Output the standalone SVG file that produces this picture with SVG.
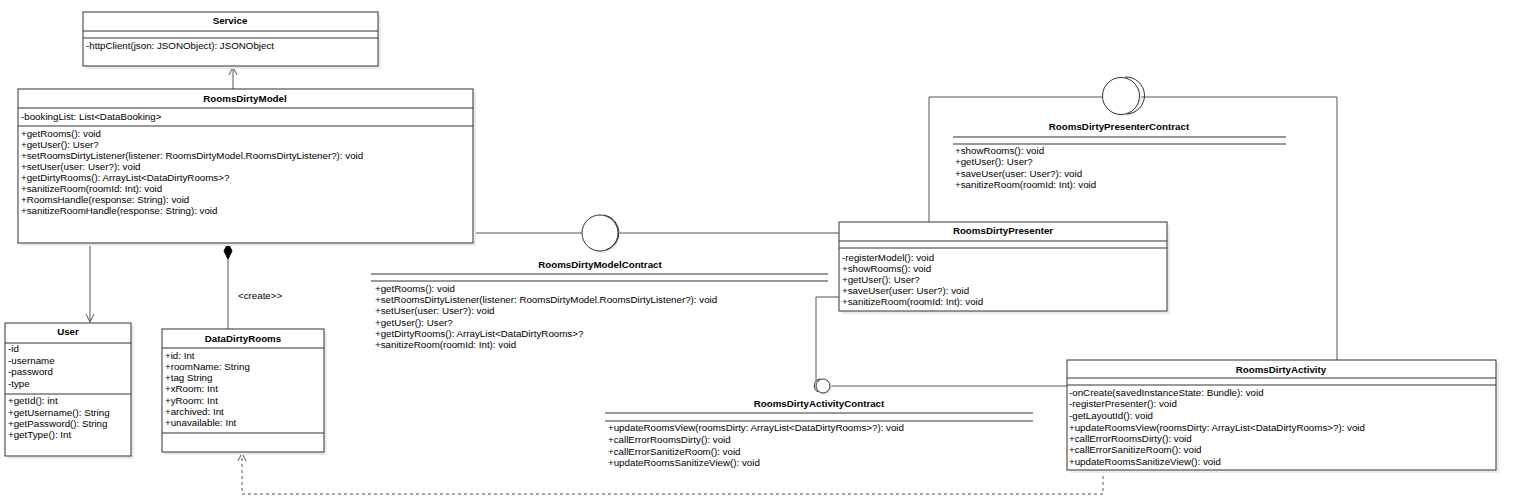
<svg xmlns="http://www.w3.org/2000/svg" width="1517" height="504" viewBox="0 0 1517 504">
<defs>
<style>
text{font-family:"Liberation Sans",Arial,sans-serif;font-size:9.75px;fill:#000}
.t{font-weight:bold;text-anchor:middle}
.box{fill:#fff;stroke:#333;stroke-width:1}
.sh{fill:#ebebeb;stroke:none}
.sep{stroke:#333;stroke-width:1;fill:none}
.c{stroke:#555;stroke-width:1;fill:none}
.d{stroke:#555;stroke-width:1;fill:none;stroke-dasharray:3,3}
.ic{fill:#fff;stroke:#333;stroke-width:1}
</style>
<marker id="open" viewBox="0 0 10 10" refX="9" refY="5" markerWidth="10" markerHeight="10" markerUnits="userSpaceOnUse" orient="auto">
<path d="M1,1 L9,5 L1,9" fill="none" stroke="#555" stroke-width="1"/>
</marker>
</defs>
<rect width="1517" height="504" fill="#fff"/>

<g id="connectors">
<line class="c" x1="233" y1="89" x2="233" y2="67" marker-end="url(#open)"/>
<line class="c" x1="90" y1="243" x2="90" y2="322" marker-end="url(#open)"/>
<line class="c" x1="228" y1="259" x2="228" y2="329"/>
<path d="M228,243 L232,251 L228,259 L224,251 Z" fill="#000" stroke="#000" stroke-width="1"/>
<text x="238" y="299">&lt;create&gt;&gt;</text>
<polyline class="d" points="1103,470 1103,494 242,494 242,453" marker-end="url(#open)"/>
<line class="c" x1="473" y1="233" x2="582" y2="233"/>
<line class="c" x1="618" y1="233" x2="839" y2="233"/>
<polyline class="c" points="929,222 929,97 1102,97"/>
<polyline class="c" points="1140,97 1337,97 1337,360"/>
<polyline class="c" points="839,297 816,297 816,381"/>
<line class="c" x1="830" y1="386" x2="1067" y2="386"/>
</g>

<g id="Service">
<rect class="sh" x="86" y="15" width="295" height="54"/>
<rect class="box" x="83" y="12" width="295" height="54"/>
<line class="sep" x1="83" y1="31" x2="378" y2="31"/>
<line class="sep" x1="83" y1="38" x2="378" y2="38"/>
<text class="t" x="230" y="24">Service</text>
<text x="86" y="49">-httpClient(json: JSONObject): JSONObject</text>
</g>

<g id="RoomsDirtyModel">
<rect class="sh" x="21" y="92" width="455" height="154"/>
<rect class="box" x="18" y="89" width="455" height="154"/>
<line class="sep" x1="18" y1="108" x2="473" y2="108"/>
<line class="sep" x1="18" y1="126" x2="473" y2="126"/>
<text class="t" x="245" y="102">RoomsDirtyModel</text>
<text x="21" y="120">-bookingList: List&lt;DataBooking&gt;</text>
<text x="21" y="137">+getRooms(): void</text>
<text x="21" y="148">+getUser(): User?</text>
<text x="21" y="159">+setRoomsDirtyListener(listener: RoomsDirtyModel.RoomsDirtyListener?): void</text>
<text x="21" y="170">+setUser(user: User?): void</text>
<text x="21" y="181">+getDirtyRooms(): ArrayList&lt;DataDirtyRooms&gt;?</text>
<text x="21" y="192">+sanitizeRoom(roomId: Int): void</text>
<text x="21" y="203">+RoomsHandle(response: String): void</text>
<text x="21" y="214">+sanitizeRoomHandle(response: String): void</text>
</g>

<g id="User">
<rect class="sh" x="8" y="326" width="126" height="133"/>
<rect class="box" x="5" y="323" width="126" height="133"/>
<line class="sep" x1="5" y1="343" x2="131" y2="343"/>
<line class="sep" x1="5" y1="394" x2="131" y2="394"/>
<text class="t" x="68" y="335">User</text>
<text x="8" y="352">-id</text>
<text x="8" y="364">-username</text>
<text x="8" y="375">-password</text>
<text x="8" y="387">-type</text>
<text x="8" y="404">+getId(): int</text>
<text x="8" y="416">+getUsername(): String</text>
<text x="8" y="427">+getPassword(): String</text>
<text x="8" y="438">+getType(): Int</text>
</g>

<g id="DataDirtyRooms">
<rect class="sh" x="165" y="332" width="162" height="123"/>
<rect class="box" x="162" y="329" width="162" height="123"/>
<line class="sep" x1="162" y1="348" x2="324" y2="348"/>
<line class="sep" x1="162" y1="433" x2="324" y2="433"/>
<text class="t" x="243" y="342">DataDirtyRooms</text>
<text x="165" y="359">+id: Int</text>
<text x="165" y="370">+roomName: String</text>
<text x="165" y="381">+tag String</text>
<text x="165" y="392">+xRoom: Int</text>
<text x="165" y="404">+yRoom: Int</text>
<text x="165" y="415">+archived: Int</text>
<text x="165" y="426">+unavailable: Int</text>
</g>

<g id="RoomsDirtyModelContract">
<circle cx="602" cy="235" r="18" fill="#ebebeb"/>
<circle class="ic" cx="600" cy="233" r="18"/>
<path d="M604,215 A18,18 0 0 1 606,250" class="sep"/>
<text class="t" x="600" y="268">RoomsDirtyModelContract</text>
<line class="sep" x1="371" y1="274" x2="828" y2="274"/>
<line class="sep" x1="371" y1="281" x2="828" y2="281"/>
<text x="375" y="292">+getRooms(): void</text>
<text x="375" y="303">+setRoomsDirtyListener(listener: RoomsDirtyModel.RoomsDirtyListener?): void</text>
<text x="375" y="314">+setUser(user: User?): void</text>
<text x="375" y="326">+getUser(): User?</text>
<text x="375" y="337">+getDirtyRooms(): ArrayList&lt;DataDirtyRooms&gt;?</text>
<text x="375" y="348">+sanitizeRoom(roomId: Int): void</text>
</g>

<g id="RoomsDirtyPresenterContract">
<circle cx="1123" cy="98" r="18.5" fill="#ebebeb"/>
<circle class="ic" cx="1121" cy="96" r="18.5"/>
<path d="M1125,77 A18.5,18.5 0 0 1 1127,114" class="sep"/>
<text class="t" x="1119" y="130">RoomsDirtyPresenterContract</text>
<line class="sep" x1="953" y1="137" x2="1286" y2="137"/>
<line class="sep" x1="953" y1="144" x2="1286" y2="144"/>
<text x="955" y="154">+showRooms(): void</text>
<text x="955" y="165">+getUser(): User?</text>
<text x="955" y="177">+saveUser(user: User?): void</text>
<text x="955" y="188">+sanitizeRoom(roomId: Int): void</text>
</g>

<g id="RoomsDirtyPresenter">
<rect class="sh" x="842" y="225" width="328" height="89"/>
<rect class="box" x="839" y="222" width="328" height="89"/>
<line class="sep" x1="839" y1="241" x2="1167" y2="241"/>
<line class="sep" x1="839" y1="248" x2="1167" y2="248"/>
<text class="t" x="1003" y="234">RoomsDirtyPresenter</text>
<text x="842" y="261">-registerModel(): void</text>
<text x="842" y="272">+showRooms(): void</text>
<text x="842" y="283">+getUser(): User?</text>
<text x="842" y="294">+saveUser(user: User?): void</text>
<text x="842" y="305">+sanitizeRoom(roomId: Int): void</text>
</g>

<g id="RoomsDirtyActivityContract">
<circle cx="825" cy="388" r="7" fill="#ebebeb"/>
<circle class="ic" cx="823" cy="386" r="7"/>
<path d="M820,379 A7,7 0 0 0 818,392" class="sep"/>
<text class="t" x="819" y="407">RoomsDirtyActivityContract</text>
<line class="sep" x1="605" y1="413" x2="1033" y2="413"/>
<line class="sep" x1="605" y1="421" x2="1033" y2="421"/>
<text x="608" y="431">+updateRoomsView(roomsDirty: ArrayList&lt;DataDirtyRooms&gt;?): void</text>
<text x="608" y="443">+callErrorRoomsDirty(): void</text>
<text x="608" y="455">+callErrorSanitizeRoom(): void</text>
<text x="608" y="466">+updateRoomsSanitizeView(): void</text>
</g>

<g id="RoomsDirtyActivity">
<rect class="sh" x="1070" y="363" width="429" height="110"/>
<rect class="box" x="1067" y="360" width="429" height="110"/>
<line class="sep" x1="1067" y1="378" x2="1496" y2="378"/>
<line class="sep" x1="1067" y1="385" x2="1496" y2="385"/>
<text class="t" x="1281" y="373">RoomsDirtyActivity</text>
<text x="1069" y="396">-onCreate(savedInstanceState: Bundle): void</text>
<text x="1069" y="407">-registerPresenter(): void</text>
<text x="1069" y="419">-getLayoutId(): void</text>
<text x="1069" y="431">+updateRoomsView(roomsDirty: ArrayList&lt;DataDirtyRooms&gt;?): void</text>
<text x="1069" y="442">+callErrorRoomsDirty(): void</text>
<text x="1069" y="453">+callErrorSanitizeRoom(): void</text>
<text x="1069" y="465">+updateRoomsSanitizeView(): void</text>
</g>
</svg>
